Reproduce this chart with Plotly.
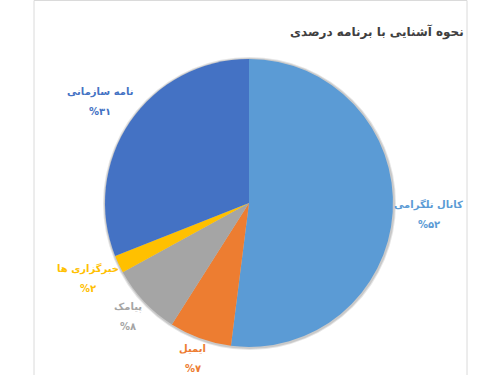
import math
import plotly.graph_objects as go

# ---- data ----
categories = ["کانال تلگرامی", "ایمیل", "پیامک", "خبرگزاری ها", "نامه سازمانی"]
values = [52, 7, 8, 2, 31]
colors = ["#5B9BD5", "#ED7D31", "#A5A5A5", "#FFC000", "#4472C4"]
title_text = "نحوه آشنایی با برنامه درصدی"

W, H = 500, 375
CX, CY, R = 249, 203, 144          # pie centre / radius in px
FONT = "DejaVu Sans"

PERSIAN_DIGITS = "۰۱۲۳۴۵۶۷۸۹"


def fa_num(n):
    return "".join(PERSIAN_DIGITS[int(c)] for c in str(n))


fig = go.Figure()
fig.add_trace(go.Pie(
    labels=categories,
    values=values,
    sort=False,
    direction="clockwise",
    rotation=0,
    marker=dict(colors=colors, line=dict(width=0)),
    textinfo="none",
    hoverinfo="label+percent",
    showlegend=False,
    domain=dict(x=[(CX - R) / W, (CX + R) / W],
                y=[1 - (CY + R) / H, 1 - (CY - R) / H]),
))

# labels positioned from the data (slice mid-angles)
total = sum(values)
cum = 0
annotations = []
for name, v, col in zip(categories, values, colors):
    mid = (cum + v / 2) / total * 2 * math.pi
    cum += v
    s, c = math.sin(mid), math.cos(mid)
    hw = 2.55 * len(name)
    hh = 16
    d = R + 2 + abs(s) * hw + abs(c) * hh
    px = CX + d * s
    py = CY - d * c
    pct = round(v / total * 100)
    for txt, dy in ((name, -10), ("%" + fa_num(pct), 10)):
        annotations.append(dict(
            x=px / W, y=1 - (py + dy) / H, xref="paper", yref="paper",
            text="<b>" + txt + "</b>", showarrow=False,
            xanchor="center", yanchor="middle",
            font=dict(family=FONT, size=10, color=col),
        ))

annotations.append(dict(
    x=466 / W, y=1 - 32 / H, xref="paper", yref="paper",
    text="<b>" + title_text + "</b>", showarrow=False,
    xanchor="right", yanchor="middle",
    font=dict(family=FONT, size=12, color="#404040"),
))

shapes = [
    # soft shadow behind the pie
    dict(type="circle", xref="paper", yref="paper", layer="below",
         x0=(CX - R - 2) / W, x1=(CX + R + 3) / W,
         y0=1 - (CY + R + 3) / H, y1=1 - (CY - R - 2) / H,
         fillcolor="rgba(0,0,0,0.10)", line=dict(width=0)),
    dict(type="circle", xref="paper", yref="paper", layer="below",
         x0=(CX - R - 1) / W, x1=(CX + R + 2) / W,
         y0=1 - (CY + R + 2) / H, y1=1 - (CY - R - 1) / H,
         fillcolor="rgba(0,0,0,0.12)", line=dict(width=0)),
    # chart frame
    dict(type="rect", xref="paper", yref="paper", layer="below",
         x0=34 / W, x1=467 / W, y0=-0.05, y1=1 - 0.5 / H,
         fillcolor="rgba(0,0,0,0)", line=dict(color="#DADADA", width=1)),
]

fig.update_layout(
    width=W, height=H,
    margin=dict(l=0, r=0, t=0, b=0),
    paper_bgcolor="white",
    plot_bgcolor="white",
    annotations=annotations,
    shapes=shapes,
    font=dict(family=FONT),
)

fig.write_html(
    "out.html",
    config={"displayModeBar": False},
    post_script="document.body.style.margin='0';document.body.style.overflow='hidden';",
)
